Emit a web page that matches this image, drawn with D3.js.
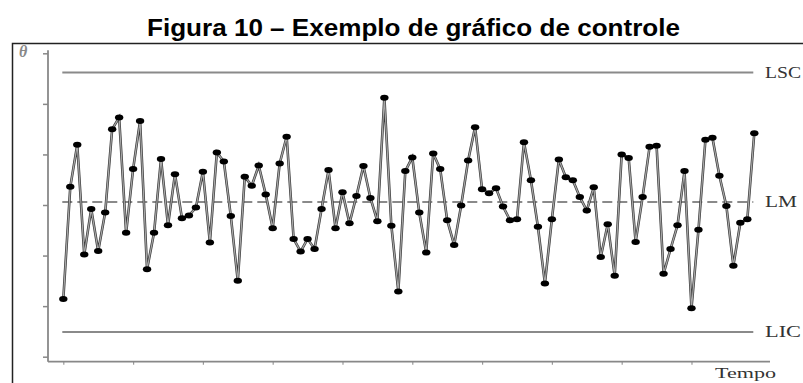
<!DOCTYPE html>
<html>
<head>
<meta charset="utf-8">
<script src="https://cdn.jsdelivr.net/npm/d3@7"></script>
<style>
  html, body { margin: 0; padding: 0; background: #fff; }
  svg { display: block; }
</style>
</head>
<body>
<svg id="chart" width="803" height="383"></svg>
<script>
// ---- data ----
const samples = [
  1.14, 3.36, 4.19, 2.02, 2.92, 2.09, 2.85, 4.50, 4.73, 2.45,
  3.71, 4.66, 1.73, 2.45, 3.91, 2.60, 3.61, 2.74, 2.79, 2.95,
  3.66, 2.26, 4.04, 3.86, 2.78, 1.50, 3.56, 3.38, 3.78, 3.21,
  2.54, 3.82, 4.35, 2.33, 2.08, 2.33, 2.13, 2.92, 3.69, 2.54,
  3.25, 2.64, 3.18, 3.77, 3.14, 2.68, 5.12, 2.59, 1.29, 3.67,
  3.94, 2.85, 2.06, 4.02, 3.71, 2.70, 2.21, 2.99, 3.88, 4.54,
  3.31, 3.23, 3.33, 2.97, 2.70, 2.72, 4.24, 3.49, 2.57, 1.45,
  2.72, 3.90, 3.55, 3.49, 3.16, 2.89, 3.35, 1.97, 2.62, 1.60,
  4.00, 3.93, 2.27, 3.16, 4.15, 4.17, 1.64, 2.13, 2.60, 3.67,
  0.96, 2.51, 4.29, 4.33, 3.58, 2.98, 1.80, 2.65, 2.72, 4.42
];
const limitNames = ["LSC", "LM", "LIC"];
const limitValues = [5.62, 3.06, 0.49];
const yTicks = [0, 1, 2, 3, 4, 5, 6];
const xTicks = [0, 10, 20, 30, 40, 50, 60, 70, 80, 90];
const titleText = "Figura 10 \u2013 Exemplo de gráfico de controle";
const yAxisLabel = "\u03B8";
const xAxisLabel = "Tempo";

// ---- drawing ----
const svg = d3.select("#chart");

const x = d3.scaleLinear().domain([0, samples.length - 1]).range([63.3, 754.3]);
const y = d3.scaleLinear().domain([0, 6]).range([356.7, 53.3]);

const axisX0 = 48, axisY0 = 361.7, axisXEnd = 770;

// title
svg.append("text")
  .attr("x", 147).attr("y", 36)
  .attr("textLength", 533).attr("lengthAdjust", "spacingAndGlyphs")
  .style("font-family", "'Liberation Sans Narrow', 'Arial Narrow', 'Liberation Sans', Arial, sans-serif")
  .style("font-weight", "bold").style("font-size", "24px")
  .style("fill", "#000")
  .text(titleText);

// frame
svg.append("rect")
  .attr("x", 12.5).attr("y", 43.5).attr("width", 800).attr("height", 360)
  .attr("fill", "none").attr("stroke", "#222").attr("stroke-width", 1.5);

// axes
const gy = svg.append("g").attr("transform", `translate(${axisX0},0)`)
  .call(d3.axisLeft(y).tickValues(yTicks).tickFormat("").tickSize(5).tickSizeOuter(0));
gy.select(".domain").remove();
gy.selectAll(".tick line").attr("stroke", "#888").attr("stroke-width", 1.5);

const gx = svg.append("g").attr("transform", `translate(0,${axisY0})`)
  .call(d3.axisBottom(x).tickValues(xTicks).tickFormat("").tickSize(3).tickSizeOuter(0));
gx.select(".domain").remove();
gx.selectAll(".tick line").attr("stroke", "#999").attr("stroke-width", 1.2);

svg.append("line")
  .attr("x1", axisX0).attr("x2", axisX0).attr("y1", y(6) - 3).attr("y2", axisY0)
  .attr("stroke", "#888").attr("stroke-width", 1.8);
svg.append("line")
  .attr("x1", axisX0).attr("x2", axisXEnd).attr("y1", axisY0).attr("y2", axisY0)
  .attr("stroke", "#888").attr("stroke-width", 1.8);

// axis labels
svg.append("text")
  .attr("x", 19).attr("y", 57)
  .style("font-family", "'Liberation Serif', 'Times New Roman', serif")
  .style("font-style", "italic").style("font-weight", "bold")
  .style("font-size", "16px").style("fill", "#888")
  .text(yAxisLabel);
svg.append("text")
  .attr("x", 715).attr("y", 378)
  .attr("textLength", 61).attr("lengthAdjust", "spacingAndGlyphs")
  .style("font-family", "'Liberation Serif', 'Times New Roman', serif")
  .style("font-size", "14px").style("fill", "#333")
  .text(xAxisLabel);

// control limits
const limits = limitNames.map((n, i) => ({ name: n, value: limitValues[i] }));
svg.selectAll("line.limit").data(limits).join("line")
  .attr("class", "limit")
  .attr("x1", x(0) - 1).attr("x2", x(samples.length - 1) - 1)
  .attr("y1", d => y(d.value)).attr("y2", d => y(d.value))
  .attr("stroke", "#8a8a8a").attr("stroke-width", 2)
  .attr("stroke-dasharray", d => d.name === "LM" ? "10,5" : null);

svg.selectAll("text.limit").data(limits).join("text")
  .attr("class", "limit")
  .attr("x", 765).attr("y", d => y(d.value) + 5.5)
  .attr("textLength", d => d.name === "LM" ? 32 : 36)
  .attr("lengthAdjust", "spacingAndGlyphs")
  .style("font-family", "'Liberation Serif', 'Times New Roman', serif")
  .style("font-size", "16px").style("fill", "#333")
  .text(d => d.name);

// series line
svg.append("path")
  .datum(samples)
  .attr("fill", "none")
  .attr("stroke", "#3a3a3a").attr("stroke-width", 2.6)
  .attr("d", d3.line().x((d, i) => x(i)).y(d => y(d)));
svg.append("path")
  .datum(samples)
  .attr("fill", "none")
  .attr("stroke", "#a8a8a8").attr("stroke-width", 1.2)
  .attr("d", d3.line().x((d, i) => x(i)).y(d => y(d)));

// points
svg.selectAll("ellipse.pt").data(samples).join("ellipse")
  .attr("class", "pt")
  .attr("cx", (d, i) => x(i)).attr("cy", d => y(d))
  .attr("rx", 4.2).attr("ry", 3)
  .attr("fill", "#000");
</script>
</body>
</html>
